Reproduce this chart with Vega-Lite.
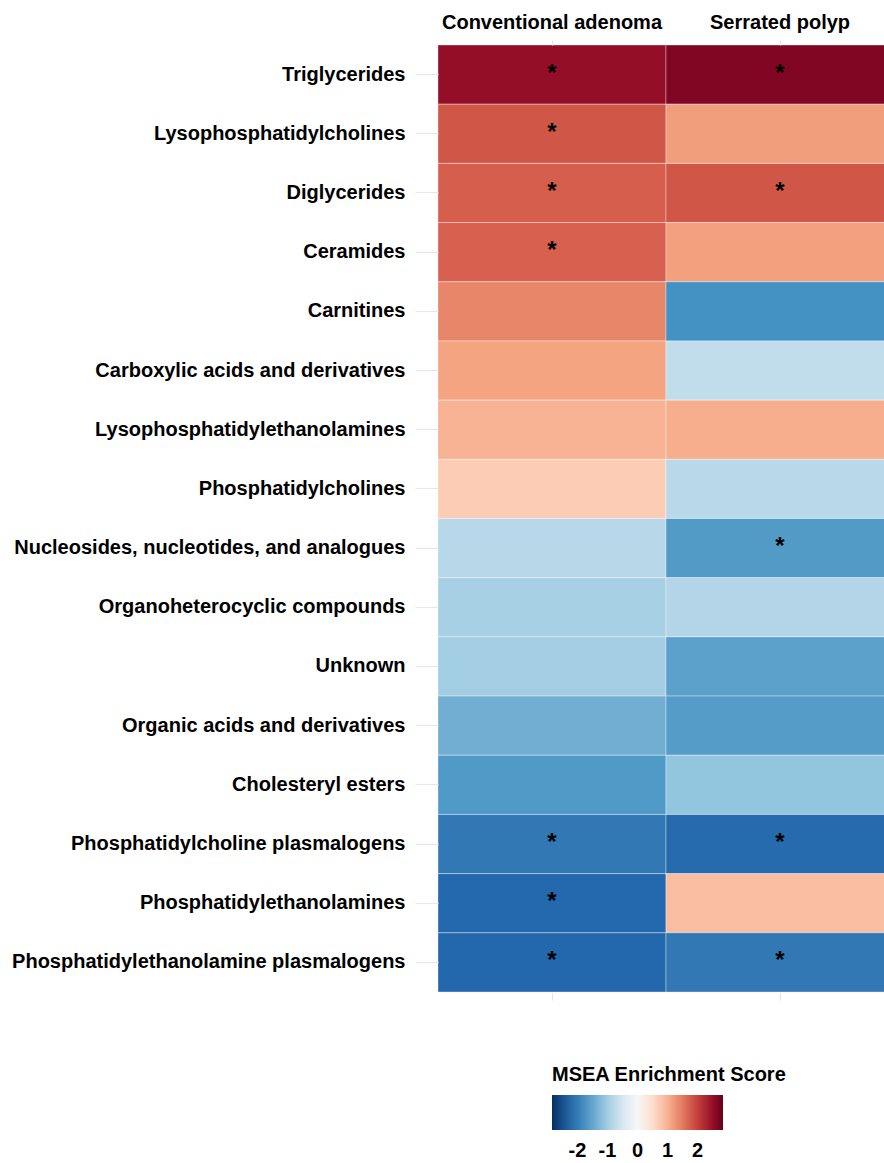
{
  "$schema": "https://vega.github.io/schema/vega-lite/v6.json",
  "autosize": "none",
  "padding": {"left": 438, "top": 45, "right": 0, "bottom": 171},
  "width": 456,
  "height": 947,
  "background": "white",
  "config": {
    "view": {"stroke": null},
    "font": "Liberation Sans",
    "axis": {"labelFont": "Liberation Sans", "labelFontWeight": "bold", "labelColor": "black", "labelFontSize": 20, "labelLimit": 600, "domain": false, "grid": false, "tickColor": "#e6e6e6", "tickWidth": 1.2, "title": null}
  },
  "data": {
    "values": [
      {"cat": "Triglycerides", "grp": "Conventional adenoma", "v": 2.5, "sig": "*"},
      {"cat": "Triglycerides", "grp": "Serrated polyp", "v": 2.65, "sig": "*"},
      {"cat": "Lysophosphatidylcholines", "grp": "Conventional adenoma", "v": 1.8, "sig": "*"},
      {"cat": "Lysophosphatidylcholines", "grp": "Serrated polyp", "v": 1.2, "sig": ""},
      {"cat": "Diglycerides", "grp": "Conventional adenoma", "v": 1.72, "sig": "*"},
      {"cat": "Diglycerides", "grp": "Serrated polyp", "v": 1.8, "sig": "*"},
      {"cat": "Ceramides", "grp": "Conventional adenoma", "v": 1.7, "sig": "*"},
      {"cat": "Ceramides", "grp": "Serrated polyp", "v": 1.18, "sig": ""},
      {"cat": "Carnitines", "grp": "Conventional adenoma", "v": 1.4, "sig": ""},
      {"cat": "Carnitines", "grp": "Serrated polyp", "v": -1.72, "sig": ""},
      {"cat": "Carboxylic acids and derivatives", "grp": "Conventional adenoma", "v": 1.15, "sig": ""},
      {"cat": "Carboxylic acids and derivatives", "grp": "Serrated polyp", "v": -0.72, "sig": ""},
      {"cat": "Lysophosphatidylethanolamines", "grp": "Conventional adenoma", "v": 1.0, "sig": ""},
      {"cat": "Lysophosphatidylethanolamines", "grp": "Serrated polyp", "v": 1.05, "sig": ""},
      {"cat": "Phosphatidylcholines", "grp": "Conventional adenoma", "v": 0.72, "sig": ""},
      {"cat": "Phosphatidylcholines", "grp": "Serrated polyp", "v": -0.79, "sig": ""},
      {"cat": "Nucleosides, nucleotides, and analogues", "grp": "Conventional adenoma", "v": -0.8, "sig": ""},
      {"cat": "Nucleosides, nucleotides, and analogues", "grp": "Serrated polyp", "v": -1.62, "sig": "*"},
      {"cat": "Organoheterocyclic compounds", "grp": "Conventional adenoma", "v": -0.95, "sig": ""},
      {"cat": "Organoheterocyclic compounds", "grp": "Serrated polyp", "v": -0.85, "sig": ""},
      {"cat": "Unknown", "grp": "Conventional adenoma", "v": -1.0, "sig": ""},
      {"cat": "Unknown", "grp": "Serrated polyp", "v": -1.55, "sig": ""},
      {"cat": "Organic acids and derivatives", "grp": "Conventional adenoma", "v": -1.4, "sig": ""},
      {"cat": "Organic acids and derivatives", "grp": "Serrated polyp", "v": -1.6, "sig": ""},
      {"cat": "Cholesteryl esters", "grp": "Conventional adenoma", "v": -1.63, "sig": ""},
      {"cat": "Cholesteryl esters", "grp": "Serrated polyp", "v": -1.14, "sig": ""},
      {"cat": "Phosphatidylcholine plasmalogens", "grp": "Conventional adenoma", "v": -2.05, "sig": "*"},
      {"cat": "Phosphatidylcholine plasmalogens", "grp": "Serrated polyp", "v": -2.22, "sig": "*"},
      {"cat": "Phosphatidylethanolamines", "grp": "Conventional adenoma", "v": -2.24, "sig": "*"},
      {"cat": "Phosphatidylethanolamines", "grp": "Serrated polyp", "v": 0.88, "sig": ""},
      {"cat": "Phosphatidylethanolamine plasmalogens", "grp": "Conventional adenoma", "v": -2.25, "sig": "*"},
      {"cat": "Phosphatidylethanolamine plasmalogens", "grp": "Serrated polyp", "v": -2.05, "sig": "*"}
    ]
  },
  "encoding": {
    "y": {"field": "cat", "type": "nominal", "sort": null, "scale": {"paddingInner": 0, "paddingOuter": 0}, "axis": {"tickSize": 23, "labelPadding": 10}}
  },
  "layer": [
    {
      "mark": {"type": "rect", "stroke": "white", "strokeWidth": 0.6, "strokeOpacity": 0.6},
      "encoding": {
        "x": {"field": "grp", "type": "nominal", "sort": ["Conventional adenoma", "Serrated polyp"], "scale": {"paddingInner": 0, "paddingOuter": 0}, "axis": {"orient": "top", "labelAngle": 0, "tickSize": 5, "labelPadding": 8}},
        "color": {
          "field": "v", "type": "quantitative",
          "title": "MSEA Enrichment Score",
          "scale": {"domain": [-2.85, 2.85], "range": ["#053061","#2166ac","#4393c3","#92c5de","#d1e5f0","#f7f7f7","#fddbc7","#f4a582","#d6604d","#b2182b","#67001f"], "interpolate": "lab"},
          "legend": {
            "orient": "none", "legendX": 114, "legendY": 1020, "direction": "horizontal",
            "gradientLength": 171, "gradientThickness": 35, "gradientStrokeWidth": 0,
            "values": [-2, -1, 0, 1, 2],
            "labelExpr": "datum.value < 0 ? '-' + abs(datum.value) : '' + datum.value",
            "titleFont": "Liberation Sans", "titleFontSize": 20, "titleFontWeight": "bold", "titleColor": "black", "titlePadding": 10, "titleLimit": 500,
            "labelFont": "Liberation Sans", "labelFontSize": 20, "labelFontWeight": "bold", "labelColor": "black", "labelOffset": 11, "labelOverlap": false
          }
        }
      }
    },
    {
      "mark": {"type": "text", "fontSize": 24, "fontWeight": "bold", "color": "black", "baseline": "alphabetic", "dy": 6, "font": "Liberation Sans"},
      "encoding": {
        "x": {"field": "grp", "type": "nominal", "sort": ["Conventional adenoma", "Serrated polyp"], "axis": {"orient": "bottom", "labels": false, "tickSize": 8}},
        "text": {"field": "sig"}
      }
    }
  ]
}
